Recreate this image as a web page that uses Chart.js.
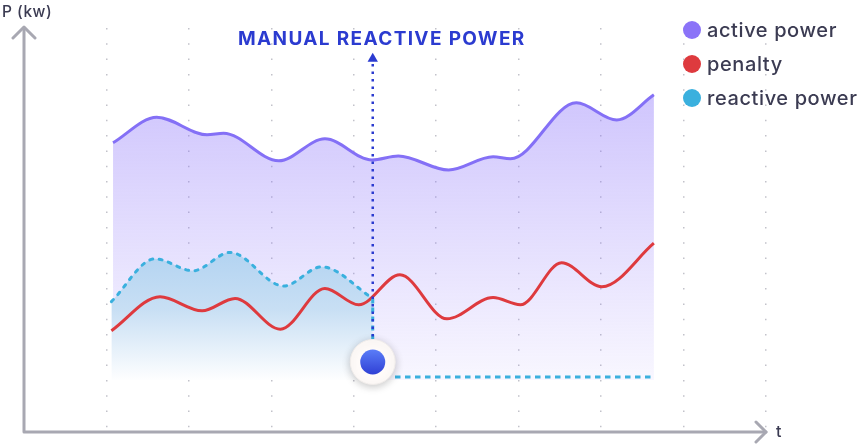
<!DOCTYPE html>
<html>
<head>
<meta charset="utf-8">
<script src="https://cdn.jsdelivr.net/npm/chart.js@4.4.1/dist/chart.umd.min.js"></script>
<style>
  html, body { margin: 0; padding: 0; background: #fff; }
  #wrap { position: relative; width: 861px; height: 444px; font-family: Inter, "Open Sans", sans-serif; }
  #c { position: absolute; left: 0; top: 0; }
  .txt { position: absolute; white-space: nowrap; color: #3b3b52; }
  #title { left: 238px; top: 27px; font-size: 19px; font-weight: 700; letter-spacing: 1.35px; color: #2b3bd0; }
  #ylab { left: 2px; top: 2px; font-size: 15.5px; font-weight: 500; letter-spacing: 0.5px; }
  #xlab { left: 776px; top: 421px; font-size: 16px; font-weight: 500; }
  .leg { position: absolute; left: 683px; font-size: 20px; font-weight: 500; letter-spacing: 0.6px; color: #3b3b52; display: flex; align-items: center; }
  .leg i { display: inline-block; width: 18px; height: 18px; border-radius: 50%; margin-right: 6px; }
</style>
</head>
<body>
<div id="wrap">
  <canvas id="c" width="861" height="444"></canvas>
  <div class="txt" id="ylab">P (kw)</div>
  <div class="txt" id="xlab">t</div>
  <div class="txt" id="title">MANUAL REACTIVE POWER</div>
  <div class="leg" style="top:18px"><i style="background:#8b73f8"></i>active power</div>
  <div class="leg" style="top:52px"><i style="background:#de3a3e"></i>penalty</div>
  <div class="leg" style="top:86px"><i style="background:#3ab0de"></i>reactive power</div>
</div>
<script>
// time positions (t) and values (P)
const activeT = [1.08, 1.61, 2.22, 2.42, 3.09, 3.65, 4.22, 4.54, 5.15, 5.69, 5.90, 6.70, 7.19, 7.64];
const activeP = [72.3, 78.7, 74.3, 74.7, 67.8, 73.3, 68.0, 69.0, 65.5, 68.8, 68.3, 82.3, 78.0, 84.3];

const reactiveT = [1.06, 1.59, 2.05, 2.50, 3.15, 3.61, 4.23];
const reactiveP = [32.6, 43.3, 40.3, 44.9, 36.5, 41.3, 33.4];

const penaltyT = [1.06, 1.65, 2.16, 2.56, 3.11, 3.65, 4.06, 4.56, 5.13, 5.69, 6.02, 6.52, 7.01, 7.64];
const penaltyP = [25.3, 33.8, 30.3, 33.4, 25.7, 35.9, 31.8, 39.3, 28.3, 33.6, 31.8, 42.3, 36.3, 47.2];

// manual reactive power marker
const manualT = 4.23;
const manualTop = 92;
const manualBottom = 23;
const knobP = 17.5;
const baselineT = [4.5, 7.62];
const baselineP = 13.75;
const fillFloor = 13;

const toPts = (ts, ps) => ts.map((t, i) => ({ x: t, y: ps[i] }));
// the big knob sits between two zero-size copies so it does not push the layout in
const knobPts = [0, 1, 2].map(() => ({ x: manualT, y: knobP }));

const canvas = document.getElementById('c');
const ctx = canvas.getContext('2d');

const purpleFill = ctx.createLinearGradient(0, 90, 0, 380);
purpleFill.addColorStop(0, 'rgba(140,116,250,0.42)');
purpleFill.addColorStop(1, 'rgba(140,116,250,0.06)');

const blueFill = ctx.createLinearGradient(0, 250, 0, 382);
blueFill.addColorStop(0, 'rgb(178,211,241)');
blueFill.addColorStop(0.45, 'rgb(200,223,244)');
blueFill.addColorStop(1, 'rgb(255,255,255)');

const knobFill = ctx.createLinearGradient(0, 350, 0, 375);
knobFill.addColorStop(0, '#5a7cf7');
knobFill.addColorStop(1, '#2f3fd4');

// axis arrows drawn on top of the canvas
const axesPlugin = {
    id: 'axes',
    afterDraw(chart) {
        const c = chart.ctx;
        c.save();
        c.strokeStyle = '#a8a8b2';
        c.lineWidth = 3;
        c.lineCap = 'round';
        c.lineJoin = 'round';
        c.beginPath();
        c.moveTo(24, 28);
        c.lineTo(24, 432);
        c.lineTo(766, 432);
        c.stroke();
        c.beginPath();
        c.moveTo(13, 38); c.lineTo(24, 27); c.lineTo(35, 38);
        c.moveTo(756, 422); c.lineTo(766, 432); c.lineTo(756, 442);
        c.stroke();
        c.restore();
    }
};

// soft shadow under the knob
const shadowPlugin = {
    id: 'knobShadow',
    beforeDatasetDraw(chart, args) {
        if (chart.data.datasets[args.index].label !== 'knob') return;
        chart.ctx.save();
        chart.ctx.shadowColor = 'rgba(0,0,0,0.22)';
        chart.ctx.shadowBlur = 8;
        chart.ctx.shadowOffsetY = 2;
    },
    afterDatasetDraw(chart, args) {
        if (chart.data.datasets[args.index].label !== 'knob') return;
        chart.ctx.restore();
    }
};

new Chart(ctx, {
    type: 'line',
    data: {
        datasets: [
            {
                label: 'knobDot',
                data: knobPts,
                showLine: false,
                pointRadius: [0, 12.5, 0],
                pointBackgroundColor: knobFill,
                pointBorderWidth: 0,
                order: 0
            },
            {
                label: 'knob',
                data: knobPts,
                showLine: false,
                pointRadius: [0, 22.5, 0],
                pointBackgroundColor: '#fffbf9',
                pointBorderColor: '#f0ecea',
                pointBorderWidth: [0, 1, 0],
                order: 1
            },
            {
                label: 'manualArrow',
                data: [{ x: manualT, y: manualTop + 1.3 }],
                showLine: false,
                pointStyle: 'triangle',
                pointRadius: 6,
                pointBackgroundColor: '#2b3bd0',
                pointBorderWidth: 0,
                order: 2
            },
            {
                label: 'manual',
                data: [{ x: manualT, y: manualTop }, { x: manualT, y: manualBottom }],
                borderColor: '#2b3bd0',
                borderWidth: 2.5,
                borderDash: [2.5, 5],
                pointRadius: 0,
                fill: false,
                order: 2
            },
            {
                label: 'reactiveDrop',
                data: [{ x: manualT, y: reactiveP[reactiveP.length - 1] }, { x: manualT, y: manualBottom - 1 }],
                borderColor: '#3ab0de',
                borderWidth: 3,
                borderDash: [5, 4],
                pointRadius: 0,
                fill: false,
                order: 3
            },
            {
                label: 'baseline',
                data: [{ x: baselineT[0], y: baselineP }, { x: baselineT[1], y: baselineP }],
                borderColor: '#3ab0de',
                borderWidth: 3,
                borderDash: [5.5, 4.5],
                pointRadius: 0,
                fill: false,
                order: 3
            },
            {
                label: 'penalty',
                data: toPts(penaltyT, penaltyP),
                borderColor: '#de3a3e',
                borderWidth: 3,
                cubicInterpolationMode: 'monotone',
                pointRadius: 0,
                fill: false,
                order: 4
            },
            {
                label: 'reactive power',
                data: toPts(reactiveT, reactiveP),
                borderColor: '#3ab0de',
                borderWidth: 3,
                borderCapStyle: 'round',
                borderDash: [3, 6.5],
                cubicInterpolationMode: 'monotone',
                pointRadius: 0,
                backgroundColor: blueFill,
                fill: { value: fillFloor },
                order: 5
            },
            {
                label: 'active power',
                data: toPts(activeT, activeP),
                borderColor: '#8470f6',
                borderWidth: 3,
                cubicInterpolationMode: 'monotone',
                pointRadius: 0,
                backgroundColor: purpleFill,
                fill: { value: fillFloor },
                order: 6
            }
        ]
    },
    options: {
        responsive: false,
        animation: false,
        elements: { point: { hoverRadius: 0 } },
        layout: { padding: { left: 24, right: 95, top: 28, bottom: 12 } },
        plugins: {
            legend: { display: false },
            tooltip: { enabled: false }
        },
        scales: {
            x: {
                type: 'linear',
                min: 0,
                max: 9,
                ticks: { display: false, stepSize: 1 },
                grid: { color: '#c2c2ca', lineWidth: 1.5, drawTicks: false },
                border: { display: false, dash: [1.5, 13.8] }
            },
            y: { min: 0, max: 101, display: false }
        }
    },
    plugins: [axesPlugin, shadowPlugin]
});
</script>
</body>
</html>
